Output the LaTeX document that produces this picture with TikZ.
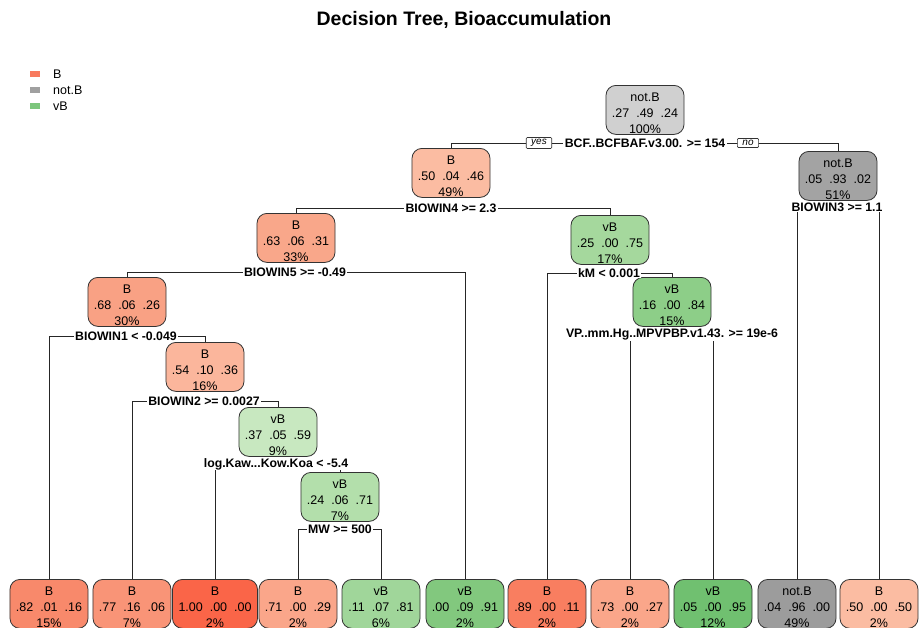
\documentclass[tikz,border=0pt]{standalone}
\usepackage{fontspec}
\setmainfont{Liberation Sans}
\usetikzlibrary{backgrounds}

% class shades, lighter for lower class probability
\definecolor{legB}{HTML}{F87A5E}
\definecolor{legN}{HTML}{A0A0A0}
\definecolor{legV}{HTML}{7CC67C}
\definecolor{gA}{HTML}{D0D0D0}
\definecolor{gB}{HTML}{A3A3A3}
\definecolor{gC}{HTML}{9C9C9C}
\definecolor{rA}{HTML}{FBBCA2}
\definecolor{rB}{HTML}{FBB69C}
\definecolor{rC}{HTML}{F9A78A}
\definecolor{rD}{HTML}{F9A184}
\definecolor{rE}{HTML}{FAA68A}
\definecolor{rF}{HTML}{F99477}
\definecolor{rG}{HTML}{F8896B}
\definecolor{rH}{HTML}{F97E60}
\definecolor{rI}{HTML}{FA6548}
\definecolor{vA}{HTML}{C8E8C0}
\definecolor{vC}{HTML}{B3DFAB}
\definecolor{vD}{HTML}{A5D89D}
\definecolor{vE}{HTML}{A0D69A}
\definecolor{vF}{HTML}{8DCE88}
\definecolor{vG}{HTML}{82C87E}
\definecolor{vH}{HTML}{70C070}

% taller first line, so the three text lines sit a little low in each box
\newcommand{\toprow}{\rule{0pt}{15pt}}

\begin{document}
\begin{tikzpicture}[x=1pt,y=-1pt,
  tnode/.style={draw=black!80, line width=0.8pt, rounded corners=10pt,
    minimum width=78pt, minimum height=49pt, inner xsep=6pt, inner ysep=0pt,
    align=center, anchor=north, font=\fontsize{12.5}{15.7}\selectfont},
  split/.style={fill=white, inner xsep=1.5pt, inner ysep=0.5pt,
    font=\bfseries\fontsize{12.3}{14}\selectfont},
  yn/.style={draw=black!80, fill=white, line width=0.6pt, rounded corners=1pt,
    inner xsep=5pt, inner ysep=1.8pt, font=\itshape\fontsize{10}{11}\selectfont},
  legbox/.style={minimum width=10pt, minimum height=6pt, inner sep=0pt},
  legtext/.style={anchor=west, inner sep=0pt, font=\fontsize{12.5}{14}\selectfont},
  edge/.style={draw=black!85, line width=0.8pt}]

\useasboundingbox (0,0) rectangle (919,627);
\clip (0,0) rectangle (919,627);

% title
\node[font=\bfseries\fontsize{19.5}{22}\selectfont] (title) at (464,20) {Decision Tree, Bioaccumulation};

% legend
\node[legbox, fill=legB] (kB) at (35,74) {};
\node[legbox, fill=legN] (kN) at (35,90) {};
\node[legbox, fill=legV] (kV) at (35,106) {};
\node[legtext] (tB) at (53,74) {B};
\node[legtext] (tN) at (53,90) {not.B};
\node[legtext] (tV) at (53,106) {vB};

% internal nodes
\node[tnode, fill=gA] (n1) at (645,85) {\toprow not.B\\.27~~.49~~.24\\100\%};
\node[tnode, fill=rA] (n2) at (451,148) {\toprow B\\.50~~.04~~.46\\49\%};
\node[tnode, fill=gB] (n8) at (838,151) {\toprow not.B\\.05~~.93~~.02\\51\%};
\node[tnode, fill=rC] (n3) at (296,213) {\toprow B\\.63~~.06~~.31\\33\%};
\node[tnode, fill=vD] (n9) at (610,215) {\toprow vB\\.25~~.00~~.75\\17\%};
\node[tnode, fill=rD] (n4) at (127,277) {\toprow B\\.68~~.06~~.26\\30\%};
\node[tnode, fill=vF] (n10) at (672,277) {\toprow vB\\.16~~.00~~.84\\15\%};
\node[tnode, fill=rB] (n5) at (205,342) {\toprow B\\.54~~.10~~.36\\16\%};
\node[tnode, fill=vA] (n6) at (278,407) {\toprow vB\\.37~~.05~~.59\\9\%};
\node[tnode, fill=vC] (n7) at (340,472) {\toprow vB\\.24~~.06~~.71\\7\%};

% leaves
\node[tnode, fill=rG] (l1) at (49,579) {\toprow B\\.82~~.01~~.16\\15\%};
\node[tnode, fill=rF] (l2) at (132,579) {\toprow B\\.77~~.16~~.06\\7\%};
\node[tnode, fill=rI] (l3) at (215,579) {\toprow B\\1.00~~.00~~.00\\2\%};
\node[tnode, fill=rE] (l4) at (298,579) {\toprow B\\.71~~.00~~.29\\2\%};
\node[tnode, fill=vE] (l5) at (381,579) {\toprow vB\\.11~~.07~~.81\\6\%};
\node[tnode, fill=vG] (l6) at (465,579) {\toprow vB\\.00~~.09~~.91\\2\%};
\node[tnode, fill=rH] (l7) at (547,579) {\toprow B\\.89~~.00~~.11\\2\%};
\node[tnode, fill=rE] (l8) at (630,579) {\toprow B\\.73~~.00~~.27\\2\%};
\node[tnode, fill=vH] (l9) at (713,579) {\toprow vB\\.05~~.00~~.95\\12\%};
\node[tnode, fill=gC] (l10) at (797,579) {\toprow not.B\\.04~~.96~~.00\\49\%};
\node[tnode, fill=rA] (l11) at (879,579) {\toprow B\\.50~~.00~~.50\\2\%};

% split rules
\node[split] (s1) at (645,143) {BCF..BCFBAF.v3.00. >= 154};
\node[split] (s2) at (451,208) {BIOWIN4 >= 2.3};
\node[split] (s8) at (837,207) {BIOWIN3 >= 1.1};
\node[split] (s3) at (295,272) {BIOWIN5 >= -0.49};
\node[split] (s9) at (609,273) {kM < 0.001};
\node[split] (s4) at (126,336) {BIOWIN1 < -0.049};
\node[split] (s10) at (672,335) {VP..mm.Hg..MPVPBP.v1.43. >= 19e-6};
\node[split] (s5) at (204,401) {BIOWIN2 >= 0.0027};
\node[split] (s6) at (276,464) {log.Kaw...Kow.Koa < -5.4};
\node[split] (s7) at (340,529) {MW >= 500};

% yes / no tags on the root split
\node[yn] (yes) at (539,143) {yes};
\node[yn] (no) at (748,143) {no};

% connectors, kept behind the rule labels
\begin{scope}[on background layer]
  \fill[white] (0,0) rectangle (919,627);
  \draw[edge] (s1.center) -| (n2.north);
  \draw[edge] (s1.center) -| (n8.north);
  \draw[edge] (s2.center) -| (n3.north);
  \draw[edge] (s2.center) -| (n9.north);
  \draw[edge] (s8.center) -| (l10.north);
  \draw[edge] (s8.center) -| (l11.north);
  \draw[edge] (s3.center) -| (n4.north);
  \draw[edge] (s3.center) -| (l6.north);
  \draw[edge] (s9.center) -| (l7.north);
  \draw[edge] (s9.center) -| (n10.north);
  \draw[edge] (s4.center) -| (l1.north);
  \draw[edge] (s4.center) -| (n5.north);
  \draw[edge] (s10.center) -| (l8.north);
  \draw[edge] (s10.center) -| (l9.north);
  \draw[edge] (s5.center) -| (l2.north);
  \draw[edge] (s5.center) -| (n6.north);
  \draw[edge] (s6.center) -| (l3.north);
  \draw[edge] (s6.center) -| (n7.north);
  \draw[edge] (s7.center) -| (l4.north);
  \draw[edge] (s7.center) -| (l5.north);
\end{scope}
\end{tikzpicture}
\end{document}
